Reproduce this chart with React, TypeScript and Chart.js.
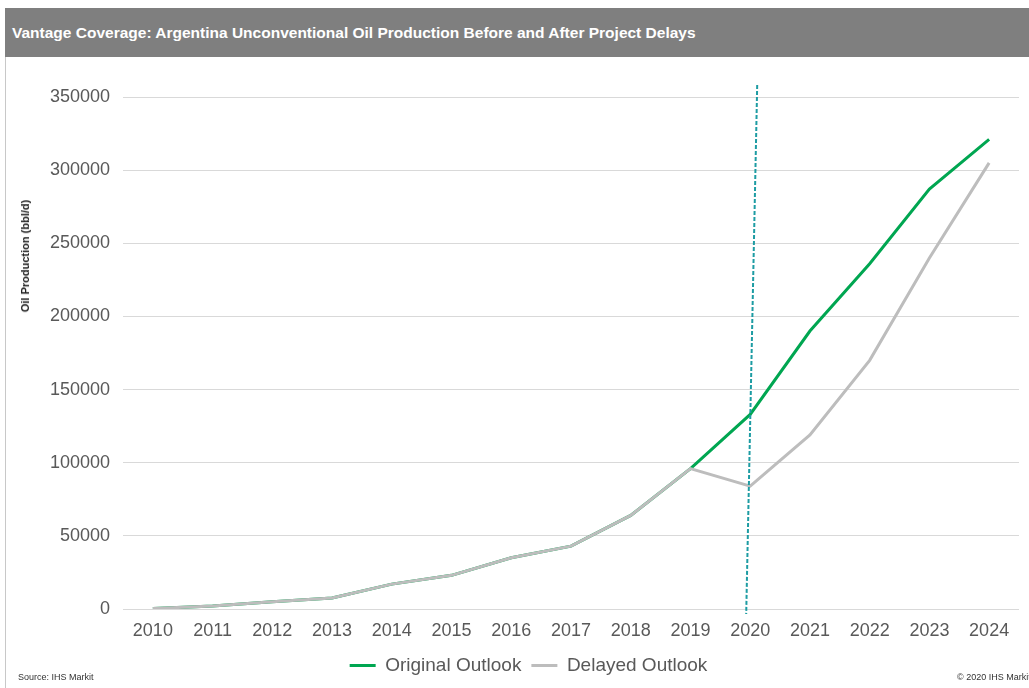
import React, { useEffect, useRef } from "react";
import { Chart, registerables } from "chart.js";

Chart.register(...registerables);

const years = ["2010", "2011", "2012", "2013", "2014", "2015", "2016", "2017", "2018", "2019", "2020", "2021", "2022", "2023", "2024"];
const originalOutlook = [300, 2000, 5000, 7500, 17000, 23000, 35000, 43000, 64000, 96000, 133000, 190000, 236000, 287000, 321000];
const delayedOutlook = [300, 2000, 5000, 7500, 17000, 23000, 35000, 43000, 64000, 96000, 84000, 119000, 170000, 240000, 305000];
const markerYear = "2020";
const yTicks = [0, 50000, 100000, 150000, 200000, 250000, 300000, 350000];

const FONT = "'Liberation Sans', Arial, sans-serif";

const markerPlugin = {
  id: "markerLine",
  afterDatasetsDraw(chart: any) {
    const x = chart.scales.x;
    const y = chart.scales.y;
    const px = x.getPixelForValue(years.indexOf(markerYear));
    const top = y.getPixelForValue(yTicks[yTicks.length - 1]) - 12;
    const bottom = y.getPixelForValue(0) + 5;
    const ctx = chart.ctx;
    ctx.save();
    ctx.strokeStyle = "#1d9ca3";
    ctx.lineWidth = 2;
    ctx.setLineDash([4, 2]);
    ctx.beginPath();
    ctx.moveTo(px + 7, top);
    ctx.lineTo(px - 4, bottom);
    ctx.stroke();
    ctx.restore();
  },
};

const legendShift = {
  id: "legendShift",
  afterLayout(chart: any) {
    if (chart.legend) {
      chart.legend.left += 14;
      chart.legend.right += 14;
    }
  },
};

export default function App() {
  const ref = useRef<HTMLCanvasElement>(null);
  useEffect(() => {
    document.body.style.margin = "0";
    const chart = new Chart(ref.current as HTMLCanvasElement, {
      type: "line",
      data: {
        labels: years,
        datasets: [
          {
            label: "Original Outlook",
            data: originalOutlook,
            borderColor: "#00a651",
            backgroundColor: "#00a651",
            borderWidth: 3,
            pointRadius: 0,
            tension: 0,
            order: 1,
          },
          {
            label: "Delayed Outlook",
            data: delayedOutlook,
            borderColor: "#bdbdbd",
            backgroundColor: "#bdbdbd",
            borderWidth: 3,
            pointRadius: 0,
            tension: 0,
            order: 0,
          },
        ],
      },
      options: {
        animation: false,
        responsive: false,
        devicePixelRatio: 1,
        layout: { padding: { top: 40, left: 5, right: 10, bottom: 3 } },
        scales: {
          x: {
            offset: true,
            grid: { display: false, drawTicks: false },
            border: { display: false },
            ticks: { color: "#595959", font: { family: FONT, size: 18 }, padding: 11, maxRotation: 0 },
            afterFit: (s: any) => { s.height = 37; },
          },
          y: {
            min: 0,
            max: 350000,
            grid: { color: "#d9d9d9", lineWidth: 1, drawTicks: false },
            border: { display: false },
            afterBuildTicks: (s: any) => { s.ticks = yTicks.map((v) => ({ value: v })); },
            ticks: {
              color: "#595959",
              font: { family: FONT, size: 18 },
              padding: 13,
              callback: (v: any) => String(v),
            },
            afterFit: (s: any) => { s.width = 113; },
          },
        },
        plugins: {
          legend: {
            position: "bottom",
            labels: {
              color: "#595959",
              font: { family: FONT, size: 19 },
              usePointStyle: true,
              pointStyle: "line",
              pointStyleWidth: 26,
              padding: 10,
              sort: (a: any, b: any) => a.datasetIndex - b.datasetIndex,
            },
          },
          tooltip: { enabled: false },
        },
      },
      plugins: [markerPlugin, legendShift],
    });
    return () => chart.destroy();
  }, []);

  return (
    <div style={{ position: "relative", width: 1029, height: 688, overflow: "hidden", background: "#fff", fontFamily: FONT }}>
      <div style={{ position: "absolute", left: 5, top: 8, width: 1024, height: 49, background: "#7f7f7f" }} />
      <div style={{ position: "absolute", left: 12, top: 24, color: "#fff", fontWeight: "bold", fontSize: 15.5, whiteSpace: "nowrap", lineHeight: "18px" }}>
        Vantage Coverage: Argentina Unconventional Oil Production Before and After Project Delays
      </div>
      <div style={{ position: "absolute", left: 5, top: 57, width: 1, height: 631, background: "#c8c8c8" }} />
      <canvas ref={ref} width={1024} height={631} style={{ position: "absolute", left: 5, top: 57, width: 1024, height: 631 }} />
      <div style={{ position: "absolute", left: 25, top: 256, width: 0, height: 0 }}>
        <div style={{ position: "absolute", transform: "translate(-50%, -50%) rotate(-90deg)", whiteSpace: "nowrap", fontWeight: "bold", fontSize: 11, color: "#222" }}>
          Oil Production (bbl/d)
        </div>
      </div>
      <div style={{ position: "absolute", left: 18, top: 672, fontSize: 9, color: "#333", whiteSpace: "nowrap" }}>Source: IHS Markit</div>
      <div style={{ position: "absolute", left: 957, top: 672, fontSize: 9, color: "#333", whiteSpace: "nowrap" }}>© 2020 IHS Markit</div>
    </div>
  );
}
